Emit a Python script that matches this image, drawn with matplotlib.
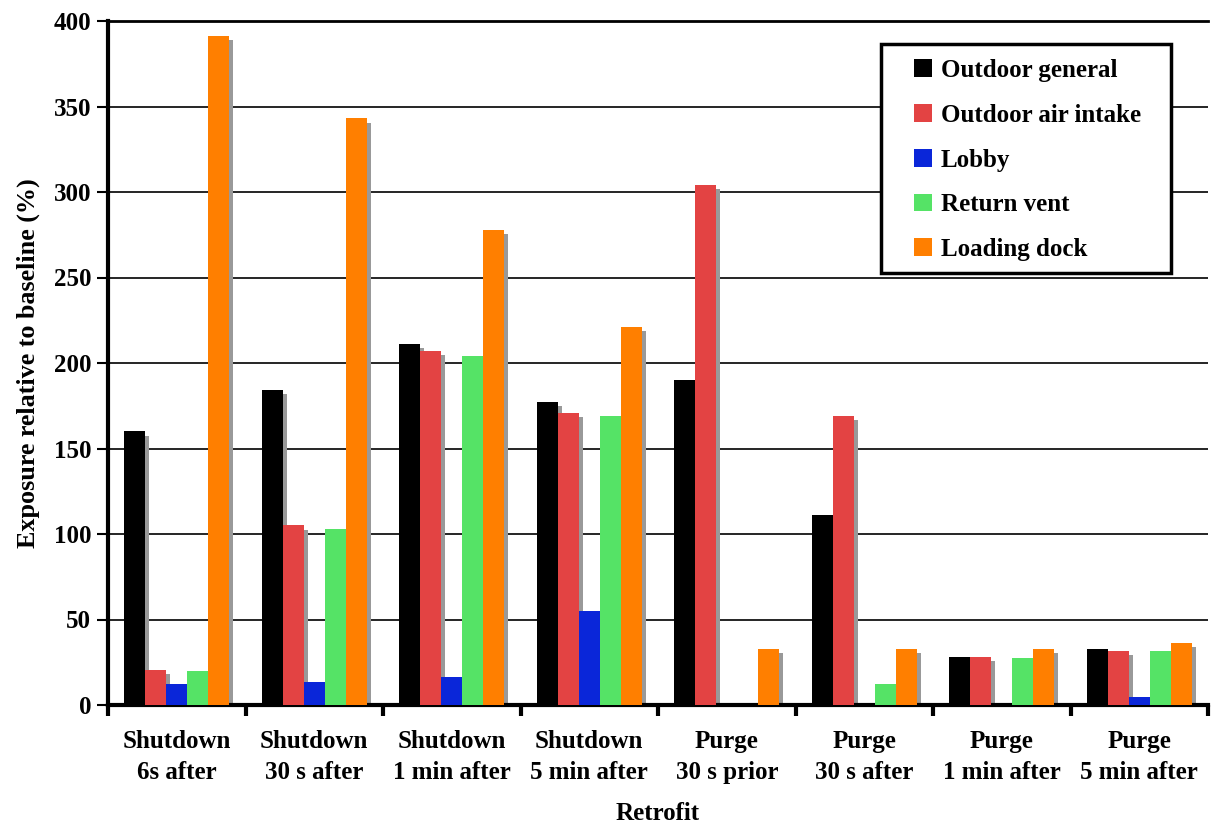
import matplotlib
matplotlib.use("Agg")
import matplotlib.pyplot as plt
import numpy as np
from matplotlib.patches import Rectangle

categories = ["Shutdown\n6s after", "Shutdown\n30 s after", "Shutdown\n1 min after",
              "Shutdown\n5 min after", "Purge\n30 s prior", "Purge\n30 s after",
              "Purge\n1 min after", "Purge\n5 min after"]
series_names = ["Outdoor general", "Outdoor air intake", "Lobby", "Return vent", "Loading dock"]
outdoor_general = [160, 184, 211, 177, 190, 111, 28, 33]
outdoor_air_intake = [20.5, 105, 207, 171, 304, 169, 28, 31.5]
lobby = [12.5, 13.5, 16.5, 55, 0, 0, 0, 4.5]
return_vent = [20, 103, 204, 169, 0, 12.5, 27.5, 31.5]
loading_dock = [391, 343, 278, 221, 33, 33, 33, 36.5]
colors = ["#000000", "#E34343", "#0A26D9", "#55E366", "#FF7F00"]

plt.rcParams['font.family'] = ['Liberation Serif', 'DejaVu Serif']
plt.rcParams['font.weight'] = 'bold'

fig = plt.figure(figsize=(12.13, 8.27), dpi=100)
W, H = 1213, 827
left, right, top, bottom = 108, 1208, 21, 705
ax = fig.add_axes([left / W, 1 - bottom / H, (right - left) / W, (bottom - top) / H])

data = [outdoor_general, outdoor_air_intake, lobby, return_vent, loading_dock]
n = len(categories)
x = np.arange(n)
bw = 0.153
offsets = (np.arange(5) - 2) * bw
sdx = 0.028
sdy = 2.4
handles = []
for i, (vals, c) in enumerate(zip(data, colors)):
    vals = np.array(vals, dtype=float)
    mask = vals > 0
    ax.bar(x[mask] + offsets[i] + sdx, vals[mask], bw, bottom=-sdy, color="#999999",
           zorder=2, linewidth=0)
    h = ax.bar(x + offsets[i], vals, bw, color=c, zorder=3, linewidth=0, label=series_names[i])
    handles.append(h)

FS = 18
ax.set_xlim(-0.5, n - 0.5)
ax.set_ylim(0, 400)
ax.set_yticks(np.arange(0, 401, 50))
ax.yaxis.grid(True, color="black", linewidth=1.2, zorder=0)
ax.set_axisbelow(True)
ax.set_xticks(np.arange(n + 1) - 0.5)
ax.set_xticklabels([])
ax.set_xticks(x, minor=True)
ax.set_xticklabels(categories, minor=True, fontsize=FS, fontweight='bold', linespacing=1.45)
ax.tick_params(axis='x', which='minor', length=0, pad=18)
ax.tick_params(axis='x', which='major', length=8, width=3, direction='out')
ax.tick_params(axis='y', length=8, width=1.5, direction='out', labelsize=FS, pad=4)
for lab in ax.get_yticklabels():
    lab.set_fontweight('bold')

ax.spines['left'].set_linewidth(3)
ax.spines['bottom'].set_linewidth(3)
ax.spines['top'].set_linewidth(2)
ax.spines['right'].set_visible(False)

ax.set_xlabel("Retrofit", fontsize=FS, fontweight='bold', labelpad=13)
ax.set_ylabel("Exposure relative to baseline (%)", fontsize=18.8, fontweight='bold', labelpad=10)

# legend
lx0, ly0, lx1, ly1 = 881, 44, 1171, 273
fig.patches.append(Rectangle((lx0 / W, 1 - ly1 / H), (lx1 - lx0) / W, (ly1 - ly0) / H,
                             transform=fig.transFigure, fill=True, facecolor='white',
                             edgecolor='black', linewidth=2.5, zorder=5))
leg = fig.legend(handles=handles, labels=series_names, loc='upper left',
                 bbox_to_anchor=(914 / W, 1 - 59 / H), bbox_transform=fig.transFigure,
                 frameon=False, handlelength=0.72, handleheight=0.72,
                 handletextpad=0.35, labelspacing=0.87, borderpad=0, borderaxespad=0,
                 prop={'weight': 'bold', 'size': FS})
leg.set_zorder(6)

fig.savefig("out.png", dpi=100)
